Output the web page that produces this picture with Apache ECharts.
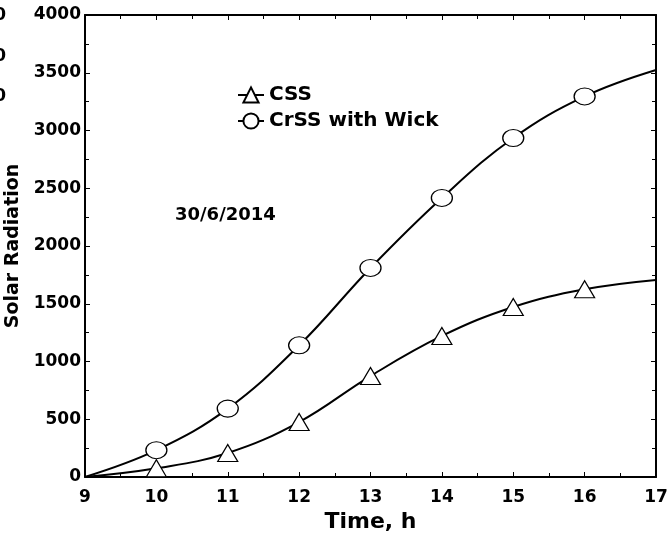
<!DOCTYPE html>
<html lang="en">
<head>
    <meta charset="UTF-8">
    <title>Solar Radiation</title>
    <script src="https://cdn.jsdelivr.net/npm/echarts@6/dist/echarts.min.js"></script>
    <style>
        html, body { margin: 0; padding: 0; background: #fff; }
        #container { width: 671px; height: 539px; }
    </style>
</head>
<body>
<div id="container"></div>

<script type="text/javascript">
    // hours of the day (x)
    var hours = [9, 10, 11, 12, 13, 14, 15, 16, 17];
    // CSS series (triangles)
    var cssValues = [0, 75, 208, 476, 874, 1221, 1472, 1625, 1706];
    // CrSS with Wick series (circles)
    var crssValues = [0, 232, 592, 1140, 1810, 2416, 2935, 3295, 3524];
    var seriesNames = ['CSS', 'CrSS with Wick'];
    var dateLabel = '30/6/2014';

    var font = 'DejaVu Sans';

    // markers only on the inner points, the curve still runs 9..17
    function buildData(values) {
        return hours.map(function (h, i) {
            var item = { value: [h, values[i]] };
            if (i === 0 || i === hours.length - 1) item.symbol = 'none';
            return item;
        });
    }

    var dom = document.getElementById('container');
    var myChart = echarts.init(dom, null, { renderer: 'canvas' });

    var axisCommon = {
        axisLine: { show: true, onZero: false, lineStyle: { color: '#000', width: 2 } },
        axisTick: { show: true, inside: true, length: 5, lineStyle: { color: '#000', width: 1 } },
        minorTick: { show: true, splitNumber: 2, length: 4, lineStyle: { color: '#000', width: 1 } },
        splitLine: { show: false }
    };

    var option = {
        animation: false,
        backgroundColor: '#fff',
        grid: { left: 85, right: 15, top: 15, bottom: 62, containLabel: false, outerBoundsMode: 'none' },
        legend: {
            orient: 'vertical',
            left: 232,
            top: 80,
            itemWidth: 26,
            itemHeight: 19,
            itemGap: 6,
            data: seriesNames,
            textStyle: { fontFamily: font, fontWeight: 'bold', fontSize: 20, color: '#000' }
        },
        xAxis: [
            Object.assign({
                type: 'value', position: 'bottom', min: 9, max: 17, interval: 1,
                name: 'Time, h', nameLocation: 'middle', nameGap: 29,
                nameTextStyle: { fontFamily: font, fontWeight: 'bold', fontSize: 22, color: '#000' },
                axisLabel: { margin: 12, fontFamily: font, fontWeight: 'bold', fontSize: 17, color: '#000' }
            }, axisCommon),
            Object.assign({
                type: 'value', position: 'top', min: 9, max: 17, interval: 1,
                axisLabel: { show: false }
            }, axisCommon)
        ],
        yAxis: [
            Object.assign({
                type: 'value', position: 'left', min: 0, max: 4000, interval: 500,
                name: 'Solar Radiation', nameLocation: 'middle', nameGap: 58, nameRotate: 90,
                nameTextStyle: { fontFamily: font, fontWeight: 'bold', fontSize: 19, color: '#000' },
                axisLabel: {
                    margin: 4, fontFamily: font, fontWeight: 'bold', fontSize: 17, color: '#000',
                    formatter: function (v) { return String(v); }
                }
            }, axisCommon),
            Object.assign({
                type: 'value', position: 'right', min: 0, max: 4000, interval: 500,
                axisLabel: { show: false }
            }, axisCommon)
        ],
        graphic: [
            { type: 'text', left: 175, top: 206, style: { text: dateLabel, font: 'bold 18px "DejaVu Sans"', fill: '#000' } },
            // edges of a neighbouring panel's labels, cut by the frame
            { type: 'text', x: 6, y: 16, style: { text: '0', font: 'bold 17px "DejaVu Sans"', fill: '#000', align: 'right', verticalAlign: 'middle' } },
            { type: 'text', x: 6, y: 57, style: { text: '0', font: 'bold 17px "DejaVu Sans"', fill: '#000', align: 'right', verticalAlign: 'middle' } },
            { type: 'text', x: 6, y: 97, style: { text: '0', font: 'bold 17px "DejaVu Sans"', fill: '#000', align: 'right', verticalAlign: 'middle' } }
        ],
        series: [
            {
                name: seriesNames[0],
                type: 'line',
                smooth: 0.4,
                data: buildData(cssValues),
                symbol: 'triangle',
                symbolSize: [20, 17],
                lineStyle: { color: '#000', width: 2 },
                itemStyle: { color: '#fff', borderColor: '#000', borderWidth: 1.2 },
                z: 3
            },
            {
                name: seriesNames[1],
                type: 'line',
                smooth: 0.4,
                data: buildData(crssValues),
                symbol: 'circle',
                symbolSize: [21, 17],
                lineStyle: { color: '#000', width: 2 },
                itemStyle: { color: '#fff', borderColor: '#000', borderWidth: 1.2 },
                z: 3
            }
        ]
    };

    if (option && typeof option === 'object') {
        myChart.setOption(option);
    }

    window.addEventListener('resize', myChart.resize);
</script>
</body>
</html>
